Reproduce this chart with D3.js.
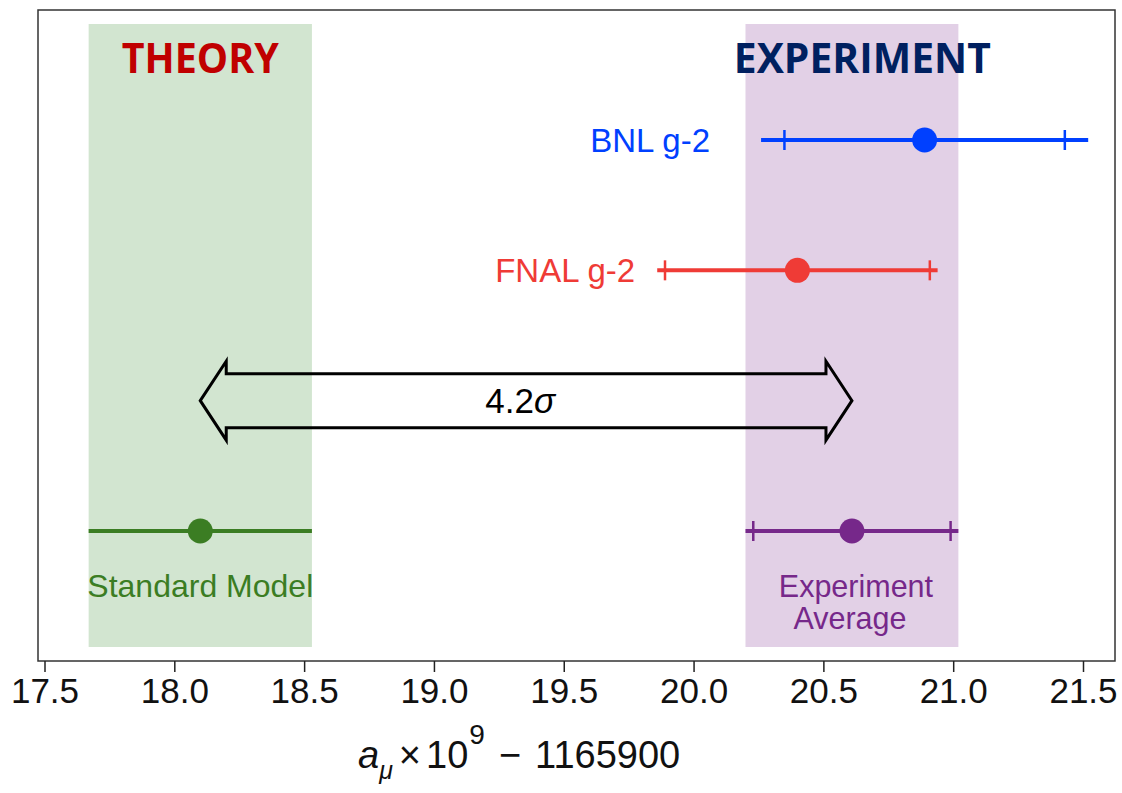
<!DOCTYPE html>
<html>
<head>
<meta charset="utf-8">
<script src="https://cdn.jsdelivr.net/npm/d3@7/dist/d3.min.js"></script>
<style>
  body { margin: 0; background: #fff; }
  text { font-family: "Liberation Sans", Arial, Helvetica, sans-serif; }
</style>
</head>
<body>
<div id="chart"></div>
<script>
// measurements, in units of a_mu x 1e9 - 1165900
let names = ["BNL g-2", "FNAL g-2", "Standard Model", "Experiment Average"];
let values = [20.89, 20.40, 18.10, 20.61];
let totalErr = [0.63, 0.54, 0.43, 0.41];
let statErr = [0.54, 0.51, null, 0.38];
let rows = [4, 3, 1, 1];
let colors = ["#0040ff", "#ef3b36", "#3b7d23", "#76288a"];

let xTicks = [17.5, 18.0, 18.5, 19.0, 19.5, 20.0, 20.5, 21.0, 21.5];
let tension = "4.2";

let width = 1122, height = 793;
let frame = {left: 38, right: 1115, top: 10, bottom: 661};

let svg = d3.select("#chart")
    .append("svg")
    .attr("width", width)
    .attr("height", height);

let x = d3.scaleLinear()
    .domain([17.5, 21.5])
    .range([44.5, 1083]);

let y = d3.scaleLinear()
    .domain([1, 4])
    .range([531, 140]);

// shaded bands: theory = SM +- err, experiment = average +- err
let bands = [
    {lo: values[2] - totalErr[2], hi: values[2] + totalErr[2], fill: "#d2e5d0"},
    {lo: values[3] - totalErr[3], hi: values[3] + totalErr[3], fill: "#e2d0e6"}
];
svg.selectAll("rect.band").data(bands).enter()
    .append("rect")
    .attr("class", "band")
    .attr("x", d => x(d.lo))
    .attr("width", d => x(d.hi) - x(d.lo))
    .attr("y", 24)
    .attr("height", 647 - 24)
    .attr("fill", d => d.fill);

// headings
svg.append("text")
    .attr("x", x(values[2]))
    .attr("y", 73)
    .attr("text-anchor", "middle")
    .attr("textLength", 157)
    .attr("lengthAdjust", "spacingAndGlyphs")
    .style("font-family", "'Open Sans', sans-serif")
    .style("font-weight", "bold")
    .style("font-size", "42px")
    .attr("fill", "#c00000")
    .text("THEORY");

svg.append("text")
    .attr("x", x(20.65))
    .attr("y", 73)
    .attr("text-anchor", "middle")
    .attr("textLength", 257)
    .attr("lengthAdjust", "spacingAndGlyphs")
    .style("font-family", "'Open Sans', sans-serif")
    .style("font-weight", "bold")
    .style("font-size", "42px")
    .attr("fill", "#002060")
    .text("EXPERIMENT");

// error bars
let data = names.map((n, i) => ({
    name: n, v: values[i], err: totalErr[i], stat: statErr[i], row: rows[i], color: colors[i]
}));

let bars = svg.selectAll("g.meas").data(data).enter()
    .append("g")
    .attr("class", "meas");

bars.append("line")
    .attr("x1", d => x(d.v - d.err))
    .attr("x2", d => x(d.v + d.err))
    .attr("y1", d => y(d.row))
    .attr("y2", d => y(d.row))
    .attr("stroke", d => d.color)
    .attr("stroke-width", 4);

bars.filter(d => d.stat !== null).each(function(d) {
    d3.select(this).selectAll("line.cap")
        .data([d.v - d.stat, d.v + d.stat])
        .enter()
        .append("line")
        .attr("class", "cap")
        .attr("x1", c => x(c))
        .attr("x2", c => x(c))
        .attr("y1", y(d.row) - 10)
        .attr("y2", y(d.row) + 10)
        .attr("stroke", d.color)
        .attr("stroke-width", 2.5);
});

bars.append("circle")
    .attr("cx", d => x(d.v))
    .attr("cy", d => y(d.row))
    .attr("r", 12.5)
    .attr("fill", d => d.color);

// labels: left of the bar for the two experiments, below for the others
svg.append("text")
    .attr("x", x(values[0] - totalErr[0]) - 51)
    .attr("y", y(rows[0]))
    .attr("dy", "0.35em")
    .attr("text-anchor", "end")
    .style("font-size", "33px")
    .attr("fill", colors[0])
    .text(names[0]);

svg.append("text")
    .attr("x", x(values[1] - totalErr[1]) - 22)
    .attr("y", y(rows[1]))
    .attr("dy", "0.35em")
    .attr("text-anchor", "end")
    .style("font-size", "33px")
    .attr("fill", colors[1])
    .text(names[1]);

svg.append("text")
    .attr("x", x(values[2]))
    .attr("y", 597)
    .attr("text-anchor", "middle")
    .style("font-size", "32px")
    .attr("fill", colors[2])
    .text(names[2]);

// two-line label, one text element per line
names[3].split(" ").forEach((w, i) => {
    svg.append("text")
        .attr("x", x(values[3]) + (i === 0 ? 4 : -2))
        .attr("y", 597 + i * 32)
        .attr("text-anchor", "middle")
        .style("font-size", "30.5px")
        .attr("fill", colors[3])
        .text(w);
});

// double arrow between SM and experiment average
let ay = y(2);
let x0 = x(values[2]), x1 = x(values[3]);
let head = x(18.2) - x(18.1);
let shaft = 27, wing = 39.5;
let arrowPts = [
    [x0, ay],
    [x0 + head, ay - wing],
    [x0 + head, ay - shaft],
    [x1 - head, ay - shaft],
    [x1 - head, ay - wing],
    [x1, ay],
    [x1 - head, ay + wing],
    [x1 - head, ay + shaft],
    [x0 + head, ay + shaft],
    [x0 + head, ay + wing]
];
svg.append("path")
    .attr("d", d3.line()(arrowPts) + "Z")
    .attr("fill", "none")
    .attr("stroke", "#000")
    .attr("stroke-width", 3)
    .attr("stroke-linejoin", "miter");

let sigmaText = svg.append("text")
    .attr("x", (x0 + x1) / 2 - 6)
    .attr("y", ay)
    .attr("dy", "0.35em")
    .attr("text-anchor", "middle")
    .style("font-size", "35px")
    .attr("fill", "#000");
sigmaText.append("tspan").text(tension);
sigmaText.append("tspan").style("font-style", "italic").text("σ");

// frame
svg.append("rect")
    .attr("x", frame.left)
    .attr("y", frame.top)
    .attr("width", frame.right - frame.left)
    .attr("height", frame.bottom - frame.top)
    .attr("fill", "none")
    .attr("stroke", "#333")
    .attr("stroke-width", 1.5);

// x axis
let xAxis = svg.append("g")
    .attr("transform", `translate(0, ${frame.bottom})`)
    .call(d3.axisBottom(x).tickValues(xTicks).tickFormat(d3.format(".1f")).tickSize(11).tickPadding(6));
xAxis.select(".domain").remove();
xAxis.selectAll(".tick line").attr("stroke", "#222").attr("stroke-width", 1.5);
xAxis.selectAll(".tick text")
    .style("font-family", "'Liberation Sans', Arial, sans-serif")
    .style("font-size", "35px")
    .attr("fill", "#111");

let title = svg.append("text")
    .attr("x", 358)
    .attr("y", 768)
    .style("font-size", "38px")
    .attr("fill", "#111");
title.append("tspan").style("font-style", "italic").text("a");
title.append("tspan").style("font-style", "italic").style("font-size", "25px").attr("dy", 11).text("μ");
title.append("tspan").attr("dy", -11).attr("dx", 6).text("×");
title.append("tspan").attr("dx", 5).text("10");
title.append("tspan").style("font-size", "28px").attr("dy", -24).attr("dx", 1).text("9");
title.append("tspan").attr("dy", 24).attr("dx", 14).text("−");
title.append("tspan").attr("dx", 14).text("1165900");
</script>
</body>
</html>
